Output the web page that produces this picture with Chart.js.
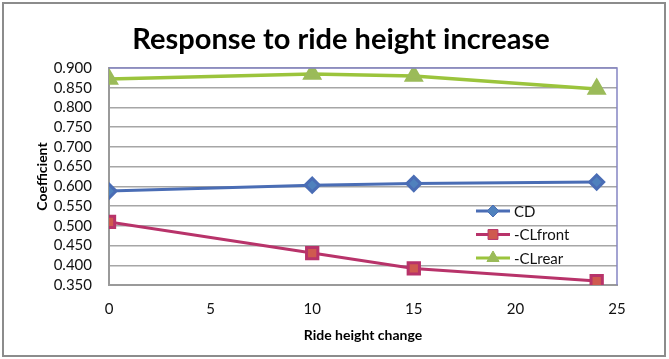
<!DOCTYPE html>
<html>
<head>
<meta charset="utf-8">
<script src="https://cdn.jsdelivr.net/npm/chart.js@4/dist/chart.umd.min.js"></script>
<style>
  html, body { margin: 0; padding: 0; background: #ffffff; }
  #wrap { width: 669px; height: 359px; position: relative; }
</style>
</head>
<body>
<div id="wrap"><canvas id="rideChart"></canvas></div>
<script>
// ---- Data ----
const rideHeight = [0, 10, 15, 24];
const cdValues      = [0.588, 0.603, 0.607, 0.611];
const clFrontValues = [0.510, 0.431, 0.392, 0.360];
const clRearValues  = [0.872, 0.885, 0.880, 0.847];
const seriesNames = ['CD', '-CLfront', '-CLrear'];
const xTicks = [0, 5, 10, 15, 20, 25];
const yMin = 0.35, yMax = 0.9, yStep = 0.05;
const chartTitle = 'Response to ride height increase';

const toPoints = vals => rideHeight.map((x, i) => ({ x: x, y: vals[i] }));

// outer frame, title, and blue top/right edge of plot area
const framePlugin = {
  id: 'frame',
  beforeDraw(chart) {
    const c = chart.ctx;
    c.save();
    c.fillStyle = '#ffffff';
    c.fillRect(0, 0, chart.width, chart.height);
    c.strokeStyle = '#8c8c8c';
    c.lineWidth = 2;
    c.strokeRect(3, 3, chart.width - 7, chart.height - 6);
    // title is off-centre in the original, so place it by hand
    c.fillStyle = '#000000';
    c.font = 'bold 29px Lato';
    c.textAlign = 'center';
    c.textBaseline = 'middle';
    c.fillText(chartTitle, 341, 40);
    c.restore();
  },
  afterDatasetsDraw(chart) {
    const a = chart.chartArea, c = chart.ctx;
    c.save();
    c.strokeStyle = '#8585c4';
    c.lineWidth = 1.5;
    c.beginPath();
    c.moveTo(a.left, a.top);
    c.lineTo(a.right, a.top);
    c.lineTo(a.right, a.bottom);
    c.stroke();
    c.restore();
  }
};

// legend drawn inside the plot area, like the spreadsheet original
const innerLegend = {
  id: 'innerLegend',
  afterDraw(chart) {
    const c = chart.ctx;
    const x0 = 476, y0 = 211, gap = 23.5;
    c.save();
    chart.data.datasets.forEach((ds, i) => {
      const y = y0 + i * gap;
      c.strokeStyle = ds.borderColor;
      c.lineWidth = 3;
      c.beginPath();
      c.moveTo(x0, y);
      c.lineTo(x0 + 34, y);
      c.stroke();
      c.fillStyle = ds.pointBackgroundColor;
      c.strokeStyle = ds.pointBorderColor;
      c.lineWidth = 1;
      Chart.helpers.drawPoint(c, {
        pointStyle: ds.pointStyle,
        radius: ds.pointRadius - 1,
        rotation: 0,
        borderWidth: 1
      }, x0 + 17, y);
      c.fillStyle = '#111111';
      c.font = '15px Lato';
      c.textBaseline = 'middle';
      c.fillText(ds.label, x0 + 38, y + 1);
    });
    c.restore();
  }
};

new Chart(document.getElementById('rideChart'), {
  type: 'line',
  data: {
    datasets: [
      {
        label: seriesNames[0],
        data: toPoints(cdValues),
        borderColor: '#4a6db5',
        borderWidth: 3,
        pointStyle: 'rectRot',
        pointRadius: 7,
        pointBackgroundColor: '#4f81bd',
        pointBorderColor: '#4a6db5',
        tension: 0
      },
      {
        label: seriesNames[1],
        data: toPoints(clFrontValues),
        borderColor: '#b8336a',
        borderWidth: 3,
        pointStyle: 'rect',
        pointRadius: 8,
        pointBackgroundColor: '#cf5a4f',
        pointBorderColor: '#b8336a',
        tension: 0
      },
      {
        label: seriesNames[2],
        data: toPoints(clRearValues),
        borderColor: '#9bc43c',
        borderWidth: 3.5,
        pointStyle: 'triangle',
        pointRadius: 8,
        pointBackgroundColor: '#9bbb59',
        pointBorderColor: '#9bbb59',
        tension: 0
      }
    ]
  },
  options: {
    responsive: true,
    maintainAspectRatio: false,
    animation: false,
    layout: { padding: { left: 26, right: 52, top: 68, bottom: 11 } },
    plugins: {
      legend: { display: false },
      tooltip: { enabled: false },
      title: { display: false }
    },
    scales: {
      x: {
        type: 'linear',
        min: 0,
        max: 25,
        afterBuildTicks: axis => { axis.ticks = xTicks.map(v => ({ value: v })); },
        afterFit: axis => { axis.height = 63; },
        grid: { display: false, drawTicks: false },
        border: { color: '#9a9a9a', width: 2 },
        ticks: { color: '#111111', font: { family: 'Lato', size: 15 }, padding: 15 },
        title: {
          display: true,
          text: 'Ride height change',
          color: '#000000',
          font: { family: 'Lato', size: 14, weight: 'bold' },
          padding: { top: 4, bottom: 4 }
        }
      },
      y: {
        min: yMin,
        max: yMax,
        afterFit: axis => { axis.width = 83; },
        ticks: {
          stepSize: yStep,
          autoSkip: false,
          color: '#111111',
          font: { family: 'Lato', size: 15 },
          padding: 17,
          callback: v => v.toFixed(3)
        },
        grid: { color: '#a6a6a6', lineWidth: 1.5, drawTicks: false },
        border: { color: '#9a9a9a', width: 2 },
        title: {
          display: true,
          text: 'Coefficient',
          color: '#000000',
          font: { family: 'Lato', size: 14, weight: 'bold' },
          padding: { top: 8, bottom: 0 }
        }
      }
    }
  },
  plugins: [framePlugin, innerLegend]
});
</script>
</body>
</html>
